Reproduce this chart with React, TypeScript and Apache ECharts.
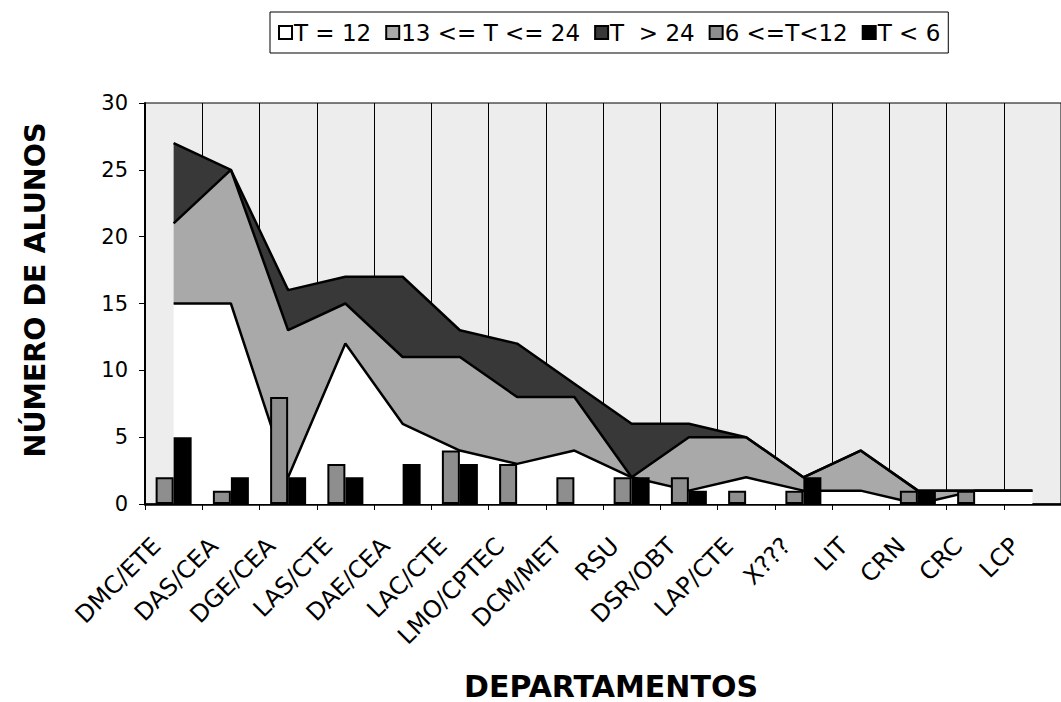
import React, { useEffect, useRef } from "react";
import * as echarts from "echarts";

const categories = [
  "DMC/ETE", "DAS/CEA", "DGE/CEA", "LAS/CTE", "DAE/CEA", "LAC/CTE", "LMO/CPTEC", "DCM/MET",
  "RSU", "DSR/OBT", "LAP/CTE", "X???", "LIT", "CRN", "CRC", "LCP",
];
const seriesNames = ["T = 12", "13 <= T <= 24", "T  > 24", "6 <=T<12", "T < 6"];
const t12 = [15, 15, 2, 12, 6, 4, 3, 4, 2, 1, 2, 1, 1, 0, 1, 1];
const t13to24 = [6, 10, 11, 3, 5, 7, 5, 4, 0, 4, 3, 1, 3, 1, 0, 0];
const tOver24 = [6, 0, 3, 2, 6, 2, 4, 1, 4, 1, 0, 0, 0, 0, 0, 0];
const t6to12 = [2, 1, 8, 3, 0, 4, 3, 2, 2, 2, 1, 1, 0, 1, 1, 0];
const tUnder6 = [5, 2, 2, 2, 3, 3, 0, 0, 2, 1, 0, 2, 0, 1, 0, 0];
const yTicks = { min: 0, max: 30, interval: 5 };

const FONT = "DejaVu Sans";

export default function App() {
  const ref = useRef<HTMLDivElement>(null);
  useEffect(() => {
    document.body.style.margin = "0";
    if (!ref.current) return;
    const chart = echarts.init(ref.current, null, { renderer: "svg" });
    const areaSeries = (name: string, data: number[], fill: string) => ({
      name,
      type: "line",
      stack: "area",
      data,
      symbol: "none",
      showSymbol: false,
      lineStyle: { color: "#000", width: 2.5 },
      itemStyle: { color: fill, borderColor: "#000", borderWidth: 1 },
      areaStyle: { color: fill, opacity: 1 },
      z: 2,
    });
    const barSeries = (name: string, data: number[], fill: string) => ({
      name,
      type: "bar",
      data: data.map((v) => (v === 0 ? null : v)),
      barGap: "0%",
      barWidth: 18,
      itemStyle: { color: fill, borderColor: "#000", borderWidth: 2 },
      z: 3,
    });
    chart.setOption({
      animation: false,
      textStyle: { fontFamily: FONT, color: "#000" },
      legend: {
        left: 270,
        top: 12,
        padding: [9, 8],
        borderColor: "#000",
        borderWidth: 1,
        itemWidth: 13,
        itemHeight: 13,
        itemGap: 14,
        icon: "rect",
        textStyle: { fontFamily: FONT, fontSize: 23, color: "#000", padding: [0, 0, 0, -3] },
        data: seriesNames,
      },
      grid: {
        left: 145,
        top: 103,
        right: -17,
        bottom: 198,
        show: true,
        backgroundColor: "#ededed",
        borderColor: "#000",
        borderWidth: 1,
      },
      xAxis: {
        type: "category",
        data: categories,
        boundaryGap: true,
        axisLine: { lineStyle: { color: "#000", width: 2.5 } },
        axisTick: { show: true, length: 6, lineStyle: { color: "#000" } },
        splitLine: { show: true, lineStyle: { color: "#000", width: 1 } },
        axisLabel: {
          rotate: 45,
          interval: 0,
          margin: 21,
          padding: [0, 24, 0, 0],
          fontFamily: FONT,
          fontSize: 24,
          color: "#000",
        },
      },
      yAxis: {
        type: "value",
        min: yTicks.min,
        max: yTicks.max,
        interval: yTicks.interval,
        axisLine: { show: true, lineStyle: { color: "#000", width: 2 } },
        axisTick: { show: true, length: 6, lineStyle: { color: "#000" } },
        splitLine: { show: false },
        axisLabel: { margin: 17, fontFamily: FONT, fontSize: 21, color: "#000" },
      },
      graphic: [
        {
          type: "text",
          x: 35,
          y: 290,
          rotation: Math.PI / 2,
          style: {
            text: "NÚMERO DE ALUNOS",
            fontFamily: FONT,
            fontWeight: "bold",
            fontSize: 28.5,
            fill: "#000",
            align: "center",
            verticalAlign: "middle",
          },
        },
        {
          type: "text",
          x: 611,
          y: 686,
          style: {
            text: "DEPARTAMENTOS",
            fontFamily: FONT,
            fontWeight: "bold",
            fontSize: 30,
            lineHeight: 30,
            fill: "#000",
            align: "center",
            verticalAlign: "middle",
          },
        },
      ],
      series: [
        areaSeries(seriesNames[0], t12, "#ffffff"),
        areaSeries(seriesNames[1], t13to24, "#a9a9a9"),
        areaSeries(seriesNames[2], tOver24, "#383838"),
        barSeries(seriesNames[3], t6to12, "#8e8e8e"),
        barSeries(seriesNames[4], tUnder6, "#000000"),
      ],
    });
    return () => chart.dispose();
  }, []);
  return <div ref={ref} style={{ width: 1061, height: 702 }} />;
}
